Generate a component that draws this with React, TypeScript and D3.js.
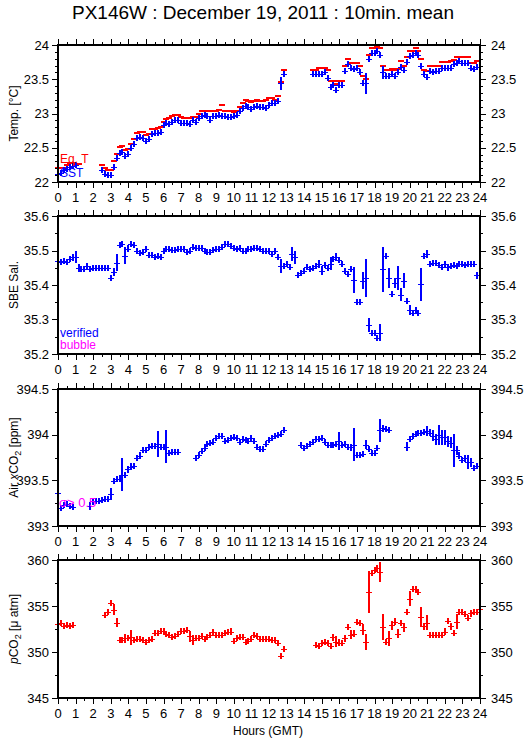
import React from 'react';
import * as d3 from 'd3';

// ---------- data (10-min slots, slot i at hour i/6) ----------
const hourTicks = d3.range(0, 25);

const sst: (number | null)[] = [
  22.12, 22.13, 22.17, 22.19, 22.22, 22.24, 22.25,
  null, null, null, null, null, null, null, null,
  22.17, 22.12, 22.10, 22.10, 22.22, 22.35, 22.43, 22.44, 22.38, 22.41,
  22.49, 22.56, 22.64, 22.66, 22.64, 22.60, 22.63, 22.70, 22.71, 22.72,
  22.73, 22.83, 22.86, 22.85, 22.88, 22.91, 22.90, 22.86, 22.86, 22.86,
  22.84, 22.90, 22.88, 22.94, 22.96, 22.98, 22.96, 22.90, 22.96, 22.97,
  22.98, 22.97, 22.96, 22.95, 22.95, 22.96, 22.98, 23.03, 23.08, 23.11,
  23.10, 23.06, 23.10, 23.11, 23.10, 23.10, 23.08, 23.13, 23.15, 23.15,
  23.18, 23.44, 23.57,
  null, null, null, null, null, null, null, null, null,
  23.58, 23.58, 23.57, 23.58, 23.60, 23.52, 23.38, 23.41, 23.34, 23.41,
  23.41, 23.62, 23.72, 23.67, 23.65, 23.66, 23.60, 23.44, 23.44, 23.80,
  23.88, 23.89, 23.91, 23.85, 23.60, 23.55, 23.55, 23.57, 23.55, 23.60,
  23.68, 23.63, 23.75, 23.84, 23.85, 23.88, 23.85, 23.70, 23.58, 23.53,
  23.62, 23.61, 23.62, 23.62, 23.66, 23.67, 23.67, 23.67, 23.72, 23.74,
  23.76, 23.74, 23.74, 23.74, 23.66, 23.65, 23.68,
];
const sstBars: [number, number][] = [
  [19, 0.04], [20, 0.03], [23, 0.03], [25, 0.03], [30, 0.03], [35, 0.02], [46, 0.02],
  [76, 0.1], [92, 0.04], [95, 0.04], [98, 0.05], [103, 0.03], [105, 0.15], [106, 0.04],
  [110, 0.04], [111, 0.1], [116, 0.03], [119, 0.03], [124, 0.04], [126, 0.04],
];

const eqT: (number | null)[] = [
  22.20, 22.20, 22.20, 22.25, 22.28, 22.28, 22.26, 22.26,
  null, null, null, null, null, null, null,
  22.25, 22.20, 22.17, 22.17, 22.30, 22.41, 22.51, 22.52, 22.47, 22.48,
  22.55, 22.63, 22.71, 22.73, 22.73, 22.68, 22.70, 22.77, 22.78, 22.79,
  22.80, 22.88, 22.92, 22.93, 22.96, 22.98, 22.98, 22.95, 22.94, 22.94,
  22.93, 22.95, 22.95, 23.00, 23.04, 23.04, 23.03, 23.03, 23.03, 23.04,
  23.05, 23.12, 23.03, 23.03, 23.03, 23.02, 23.03, 23.10, 23.16, 23.19,
  23.18, 23.17, 23.18, 23.19, 23.18, 23.18, 23.20, 23.23, 23.23, 23.20,
  23.25, 23.46, 23.63,
  null, null, null, null, null, null, null, null, null,
  23.64, 23.64, 23.66, 23.66, 23.67, 23.63, 23.47, 23.48, 23.43, 23.48,
  23.48, 23.69, 23.80, 23.73, 23.73, 23.73, 23.69, 23.55, 23.50, 23.86,
  23.96, 23.96, 23.99, 23.96, 23.70, 23.63, 23.63, 23.65, 23.63, 23.65,
  23.76, 23.70, 23.83, 23.91, 23.91, 23.95, 23.91, 23.80, 23.64, 23.62,
  23.70, 23.70, 23.70, 23.70, 23.75, 23.75, 23.75, 23.76, 23.78, 23.82,
  23.83, 23.83, 23.83, 23.83, 23.74, 23.74, 23.77,
];

const sal: (number | null)[] = [
  35.470, 35.468, 35.470, 35.468, 35.475, 35.480, 35.482, 35.450, 35.447, 35.447,
  35.455, 35.445, 35.450, 35.448, 35.448, 35.448, 35.448, 35.448, 35.420, 35.437,
  35.465, 35.517, 35.520, 35.485, 35.505, 35.518, 35.515, 35.498, 35.493, 35.496,
  35.503, 35.488, 35.487, 35.481, 35.483, 35.481, 35.499, 35.503, 35.503, 35.502,
  35.502, 35.505, 35.505, 35.503, 35.497, 35.500, 35.510, 35.507, 35.507, 35.506,
  35.500, 35.495, 35.495, 35.502, 35.503, 35.505, 35.510, 35.518, 35.519, 35.512,
  35.507, 35.505, 35.508, 35.498, 35.500, 35.505, 35.505, 35.508, 35.506, 35.505,
  35.500, 35.498, 35.500, 35.490, 35.500, 35.482, 35.456, 35.455, 35.462, 35.452,
  35.490, 35.480, 35.428, 35.435, 35.440, 35.453, 35.447, 35.450, 35.455, 35.460,
  35.442, 35.458, 35.448, 35.462, 35.475, 35.482, 35.473, 35.460, 35.440, 35.433,
  35.445, 35.415, 35.350, 35.352, 35.412, 35.420, 35.285, 35.260, 35.260, 35.245,
  35.262, 35.445, 35.483, 35.420, 35.375, 35.405, 35.420, 35.372, 35.412, 35.355,
  35.328, 35.318, 35.328, 35.318, 35.402, 35.483, 35.490, 35.462, 35.465, 35.465,
  35.458, 35.452, 35.462, 35.452, 35.455, 35.458, 35.455, 35.460, 35.460, 35.458,
  35.460, 35.462, 35.462, 35.428,
];
const salBars: [number, number][] = [
  [5, 0.01], [6, 0.018], [7, 0.012], [10, 0.008], [19, 0.012], [20, 0.025], [23, 0.025],
  [24, 0.01], [76, 0.02], [80, 0.02], [81, 0.02], [89, 0.012], [90, 0.012], [93, 0.018],
  [95, 0.012], [101, 0.038], [104, 0.025], [105, 0.055], [106, 0.02], [110, 0.025],
  [111, 0.065], [113, 0.03], [115, 0.015], [116, 0.035], [117, 0.018], [118, 0.022],
  [120, 0.015], [124, 0.047], [126, 0.012], [133, 0.01], [143, 0.01],
];

const xco2: (number | null)[] = [
  393.36, 393.20, 393.23, 393.24, 393.22, 393.21,
  null, null, null, null, null,
  393.22, 393.27, 393.27, 393.27, 393.28, 393.30, 393.30, 393.35, 393.49, 393.52,
  393.51, 393.56, 393.56, 393.62, 393.65, 393.66, 393.75, 393.77, 393.83, 393.83,
  393.87, 393.88, 393.88, 393.90, 393.87, 393.86, 393.87, 393.80, 393.81, 393.81,
  393.81,
  null, null, null, null, null,
  393.74, 393.78, 393.82, 393.85, 393.90, 393.91, 393.92, 393.96, 393.98, 393.99,
  393.93, 393.94, 393.96, 393.97, 393.96, 393.92, 393.95, 393.94, 393.93, 393.96,
  393.93, 393.86, 393.84, 393.84, 393.90, 393.94, 393.96, 393.99, 394.00, 394.01,
  394.05,
  null, null, null, null, null,
  393.89, 393.85, 393.88, 393.90, 393.92, 393.95, 393.95, 393.96, 393.92, 393.89,
  393.89, 393.89, 393.90, 393.93, 393.89, 393.90, 393.87, 393.86, 393.89, 393.78,
  393.78, 393.79, 393.89, 393.84, 393.80, 393.80, 393.85, 394.05, 394.07, 394.06,
  394.05,
  null, null, null, null, null,
  393.87, 393.95, 393.98, 394.01, 394.02, 394.02, 394.03, 394.04, 394.02, 393.99,
  393.95, 394.00, 393.97, 393.97, 393.93, 393.91, 393.83, 393.83, 393.77, 393.72,
  393.74, 393.70, 393.70, 393.64, 393.66,
];
const xco2Bars: [number, number][] = [
  [0, 0.07], [11, 0.045], [12, 0.04], [18, 0.07], [22, 0.18], [24, 0.04], [25, 0.04],
  [27, 0.03], [28, 0.04], [34, 0.14], [37, 0.18], [66, 0.03], [96, 0.1], [100, 0.04],
  [101, 0.18], [105, 0.05], [110, 0.125], [111, 0.04], [119, 0.05], [120, 0.03],
  [126, 0.06], [127, 0.04], [128, 0.06], [129, 0.06], [130, 0.11], [131, 0.08],
  [132, 0.08], [133, 0.06], [134, 0.06], [135, 0.18], [136, 0.05], [137, 0.04],
  [139, 0.04], [140, 0.08], [141, 0.05], [142, 0.03], [143, 0.03],
];

const pco2: (number | null)[] = [
  353.0, 353.1, 352.8, 352.9, 352.8, 352.9,
  null, null, null, null, null, null, null, null, null, null,
  354.0, 354.3, 355.3, 354.6, 353.2, 351.3, 351.3, 351.5, 351.5, 351.6,
  351.3, 351.4, 351.4, 351.3, 351.1, 351.3, 351.4, 352.1, 352.1, 352.3,
  352.3, 352.0, 351.8, 351.6, 351.7, 352.0, 352.3, 352.3, 352.4, 351.7,
  351.3, 351.5, 351.5, 351.7, 351.4, 351.6, 351.8, 352.2, 351.9, 351.9,
  351.9, 352.1, 352.2, 352.2, 351.2, 351.5, 351.6, 351.6, 351.1, 351.2,
  351.4, 351.8, 351.7, 351.4, 351.4, 351.4, 351.4, 351.3, 351.3, 351.0,
  349.6, 350.3,
  null, null, null, null, null, null, null, null, null, null,
  350.8, 350.6, 351.0, 351.1, 351.0, 350.7, 351.6, 351.1, 351.0, 351.0,
  351.5, 352.7, 351.9, 352.0, 353.3, 353.1, 352.4, 351.1, 356.5, 358.6,
  358.9, 359.1, 358.7, 352.7, 351.1, 351.5, 352.9, 353.3, 352.0, 353.2,
  352.7, 354.3, 355.8, 356.9, 356.9, 356.5, 353.8, 352.8, 353.2, 351.9,
  351.8, 351.8, 351.8, 351.8, 352.2, 353.4, 352.8, 352.1, 353.3, 354.3,
  354.3, 354.1, 353.7, 354.2, 354.4, 354.4, 354.7,
];
const pco2Bars: [number, number][] = [
  [2, 0.35], [19, 0.6], [20, 0.5], [23, 0.5], [25, 0.8], [33, 0.3], [35, 0.3], [44, 0.3],
  [45, 0.6], [46, 0.5], [53, 0.3], [59, 0.4], [60, 0.3], [62, 0.3], [64, 0.3], [76, 0.3],
  [94, 0.4], [95, 0.6], [96, 0.4], [98, 0.4], [99, 0.3], [100, 0.5], [101, 0.4], [104, 0.6],
  [105, 0.9], [106, 2.3], [107, 0.3], [109, 0.4], [110, 1.1], [111, 1.4], [112, 0.3],
  [113, 0.8], [114, 0.5], [115, 0.4], [116, 0.5], [117, 0.3], [118, 0.5], [119, 0.3],
  [120, 0.8], [121, 0.3], [122, 0.3], [123, 0.3], [124, 1.1], [125, 0.4], [126, 0.8],
  [128, 0.3], [129, 0.3], [130, 0.3], [131, 0.3], [132, 0.4], [133, 0.3], [134, 0.4],
  [135, 0.3], [136, 0.8], [137, 0.3], [138, 0.3], [139, 0.3], [140, 0.3], [141, 0.4],
  [142, 0.3], [144, 0.3],
];

// ---------- layout ----------
const W = 529;
const H = 739;
const FONT = "'Liberation Sans', Arial, Helvetica, sans-serif";
const BLUE = '#0000ff';
const RED = '#ff0000';
const MAG = '#ff00ff';

const x = d3.scaleLinear().domain([0, 24]).range([58, 480]);
const hourOf = (i: number) => i / 6;

type Series = {
  values: (number | null)[];
  bars: [number, number][];
  color: string;
  kind: 'plus' | 'dash';
};

function Marks({ s, y }: { s: Series; y: d3.ScaleLinear<number, number> }) {
  const barMap = new Map<number, number>(s.bars);
  return (
    <g stroke={s.color} shapeRendering="crispEdges">
      {s.values.map((v, i) => {
        if (v == null) return null;
        const cx = Math.round(x(hourOf(i)));
        const cy = Math.round(y(v));
        if (s.kind === 'dash') {
          return <line key={i} x1={cx - 3} x2={cx + 3} y1={cy} y2={cy} strokeWidth={2} />;
        }
        const e = barMap.get(i) ?? 0;
        const top = Math.min(cy - 3, Math.round(y(v + e)));
        const bot = Math.max(cy + 3, Math.round(y(v - e)));
        return (
          <g key={i}>
            <line x1={cx - 3} x2={cx + 3} y1={cy + 0.5} y2={cy + 0.5} strokeWidth={1} />
            <line x1={cx} x2={cx} y1={top} y2={bot} strokeWidth={2} />
          </g>
        );
      })}
    </g>
  );
}

type PanelProps = {
  top: number;
  bottom: number;
  domain: [number, number];
  major: number;
  minor: number;
  fmt: (v: number) => string;
  label: React.ReactNode;
  series: Series[];
};

function Panel({ top, bottom, domain, major, minor, fmt, label, series }: PanelProps) {
  const y = d3.scaleLinear().domain(domain).range([bottom, top]);
  const nMaj = Math.round((domain[1] - domain[0]) / major);
  const nMin = Math.round((domain[1] - domain[0]) / minor);
  const majors = d3.range(nMaj + 1).map((k) => domain[0] + k * major);
  const minors = d3.range(nMin + 1).map((k) => domain[0] + k * minor);
  const halfHours = d3.range(49).map((k) => k / 2);
  const L = x(0);
  const R = x(24);
  return (
    <g>
      {series.map((s, k) => (
        <Marks key={k} s={s} y={y} />
      ))}
      <g stroke="#000" strokeWidth={1} shapeRendering="crispEdges">
        {halfHours.map((h) => {
          const len = Number.isInteger(h) ? 6 : 3;
          const xx = Math.round(x(h)) + 0.5;
          return (
            <g key={h}>
              <line x1={xx} x2={xx} y1={top} y2={top - len} />
              <line x1={xx} x2={xx} y1={bottom} y2={bottom + len} />
            </g>
          );
        })}
        {minors.map((v, k) => {
          const yy = Math.round(y(v)) + 0.5;
          return (
            <g key={k}>
              <line x1={L} x2={L - 3} y1={yy} y2={yy} />
              <line x1={R} x2={R + 3} y1={yy} y2={yy} />
            </g>
          );
        })}
        {majors.map((v, k) => {
          const yy = Math.round(y(v)) + 0.5;
          return (
            <g key={k}>
              <line x1={L} x2={L - 6} y1={yy} y2={yy} />
              <line x1={R} x2={R + 6} y1={yy} y2={yy} />
            </g>
          );
        })}
      </g>
      <rect x={L} y={top} width={R - L} height={bottom - top} fill="none" stroke="#000" strokeWidth={1.5} shapeRendering="crispEdges" />
      <g fontFamily={FONT} fontSize={13} fill="#000">
        {majors.map((v, k) => (
          <g key={k}>
            <text x={49} y={y(v) + 4.5} textAnchor="end">{fmt(v)}</text>
            <text x={491} y={y(v) + 4.5} textAnchor="start">{fmt(v)}</text>
          </g>
        ))}
        {hourTicks.map((h) => (
          <text key={h} x={x(h)} y={bottom + 20} textAnchor="middle">{h}</text>
        ))}
      </g>
      <text
        transform={`translate(18,${(top + bottom) / 2}) rotate(-90)`}
        textAnchor="middle"
        fontFamily={FONT}
        fontSize={12}
        fill="#000"
      >
        {label}
      </text>
    </g>
  );
}

export default function App() {
  const f1 = (v: number) => String(+v.toFixed(1));
  const f2 = (v: number) => v.toFixed(1);
  const f4 = (v: number) => String(Math.round(v));
  return (
    <svg
      width={W}
      height={H}
      style={{ position: 'absolute', left: 0, top: 0, display: 'block' }}
      xmlns="http://www.w3.org/2000/svg"
    >
      <rect width={W} height={H} fill="#fff" />
      <text x={263} y={19} textAnchor="middle" fontFamily={FONT} fontSize={19} fill="#000">
        PX146W : December 19, 2011 : 10min. mean
      </text>

      <Panel
        top={45}
        bottom={182}
        domain={[22, 24]}
        major={0.5}
        minor={0.1}
        fmt={f1}
        label={<>Temp. [°C]</>}
        series={[
          { values: eqT, bars: [], color: RED, kind: 'dash' },
          { values: sst, bars: sstBars, color: BLUE, kind: 'plus' },
        ]}
      />
      <text x={60} y={163} fontFamily={FONT} fontSize={12} fill={RED}>Eq. T</text>
      <text x={60} y={177} fontFamily={FONT} fontSize={12} fill={BLUE}>SST</text>

      <Panel
        top={216}
        bottom={354}
        domain={[35.2, 35.6]}
        major={0.1}
        minor={0.05}
        fmt={f2}
        label={<>SBE Sal.</>}
        series={[{ values: sal, bars: salBars, color: BLUE, kind: 'plus' }]}
      />
      <text x={60} y={336.5} fontFamily={FONT} fontSize={12} fill={BLUE}>verified</text>
      <text x={60} y={349} fontFamily={FONT} fontSize={12} fill={MAG}>bubble</text>

      <Panel
        top={389}
        bottom={526}
        domain={[393, 394.5]}
        major={0.5}
        minor={0.25}
        fmt={f1}
        label={
          <>
            Air <tspan fontStyle="italic">x</tspan>CO<tspan fontSize={9} dy={3}>2</tspan>
            <tspan dy={-3}> [ppm]</tspan>
          </>
        }
        series={[{ values: xco2, bars: xco2Bars, color: BLUE, kind: 'plus' }]}
      />
      <text x={59} y={507} fontFamily={FONT} fontSize={13} fill={MAG}>σ&gt; 0.5</text>

      <Panel
        top={560}
        bottom={698}
        domain={[345, 360]}
        major={5}
        minor={2.5}
        fmt={f4}
        label={
          <>
            <tspan fontStyle="italic">p</tspan>CO<tspan fontSize={9} dy={3}>2</tspan>
            <tspan dy={-3}> [μ atm]</tspan>
          </>
        }
        series={[{ values: pco2, bars: pco2Bars, color: RED, kind: 'plus' }]}
      />
      <text x={268} y={735} textAnchor="middle" fontFamily={FONT} fontSize={12} fill="#000">
        Hours (GMT)
      </text>
    </svg>
  );
}
